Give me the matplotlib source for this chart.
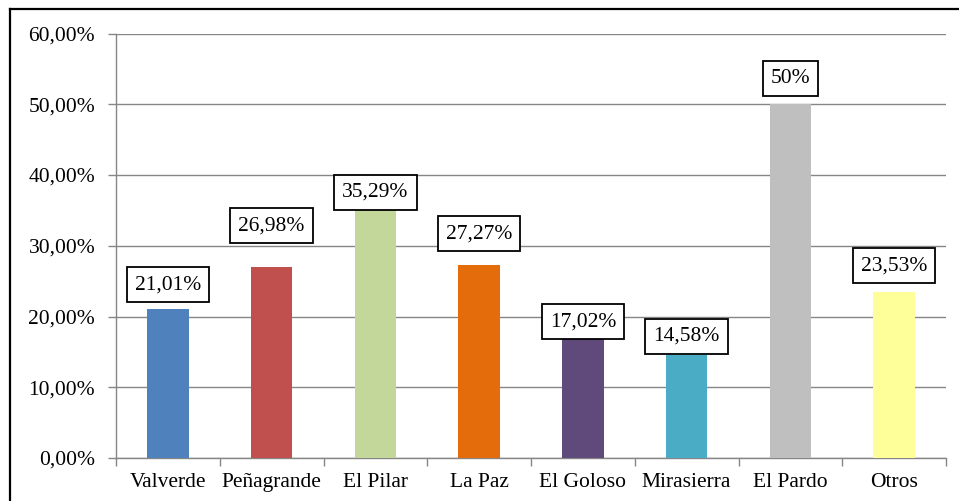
import matplotlib
matplotlib.use("Agg")
import matplotlib.pyplot as plt
from matplotlib.lines import Line2D
from matplotlib.ticker import FuncFormatter, MultipleLocator
import numpy as np

plt.rcParams['font.family'] = ['Liberation Serif', 'DejaVu Serif']

# data
barrios = ['Valverde', 'Peñagrande', 'El Pilar', 'La Paz', 'El Goloso',
           'Mirasierra', 'El Pardo', 'Otros']
porcentajes = [21.01, 26.98, 35.29, 27.27, 17.02, 14.58, 50.0, 23.53]
etiquetas = ['21,01%', '26,98%', '35,29%', '27,27%', '17,02%', '14,58%',
             '50%', '23,53%']

colores = ['#4F81BD', '#C0504D', '#C4D79B', '#E46C0A', '#604A7B',
           '#4BACC6', '#BFBFBF', '#FFFF99']
# gap (px) between bar top and label box
huecos = [7, 24, -1.5, 14, -1.5, 1, 8, 8.5]

fs = 15.5

fig = plt.figure(figsize=(9.59, 5.01), dpi=100)
ax = fig.add_axes([116/959, 1-458/501, (946-116)/959, (458-33.5)/501])

x = np.arange(len(barrios))
ax.bar(x, porcentajes, width=0.4, color=colores, zorder=3)

ax.set_xlim(-0.5, len(barrios) - 0.5)
ax.set_ylim(0, 60)
ax.yaxis.set_major_locator(MultipleLocator(10))
ax.yaxis.set_major_formatter(FuncFormatter(lambda v, p: ('%.2f%%' % v).replace('.', ',')))
ax.grid(axis='y', color='#868686', linewidth=1.0, zorder=0)

ax.set_xticks(x)
ax.set_xticklabels(barrios)
ax.set_xticks(np.arange(-0.5, len(barrios)), minor=True)
ax.tick_params(axis='x', which='major', length=0, pad=11, labelsize=fs)
ax.tick_params(axis='x', which='minor', length=6, width=1.0, color='#868686', direction='out')
ax.tick_params(axis='y', length=6, width=1.0, color='#868686', pad=9, labelsize=fs)

for s in ['top', 'right']:
    ax.spines[s].set_visible(False)
for s in ['left', 'bottom']:
    ax.spines[s].set_color('#868686')
    ax.spines[s].set_linewidth(1.0)

pad_em = 0.37
pad_px = pad_em * fs * 100 / 72
for xi, v, lab, g in zip(x, porcentajes, etiquetas, huecos):
    ax.annotate(lab, (xi, v), xytext=(0, g + pad_px),
                textcoords='offset pixels', ha='center', va='bottom',
                fontsize=fs, zorder=5,
                bbox=dict(boxstyle='square,pad=%.2f' % pad_em, fc='white',
                          ec='black', lw=1.3))

# outer chart border (left and top visible)
fig.add_artist(Line2D([10/959, 10/959], [0, 1-8.5/501], color='black',
                      lw=1.6, transform=fig.transFigure))
fig.add_artist(Line2D([10/959, 1], [1-8.5/501, 1-8.5/501], color='black',
                      lw=1.6, transform=fig.transFigure))

fig.savefig('out.png', dpi=100)
